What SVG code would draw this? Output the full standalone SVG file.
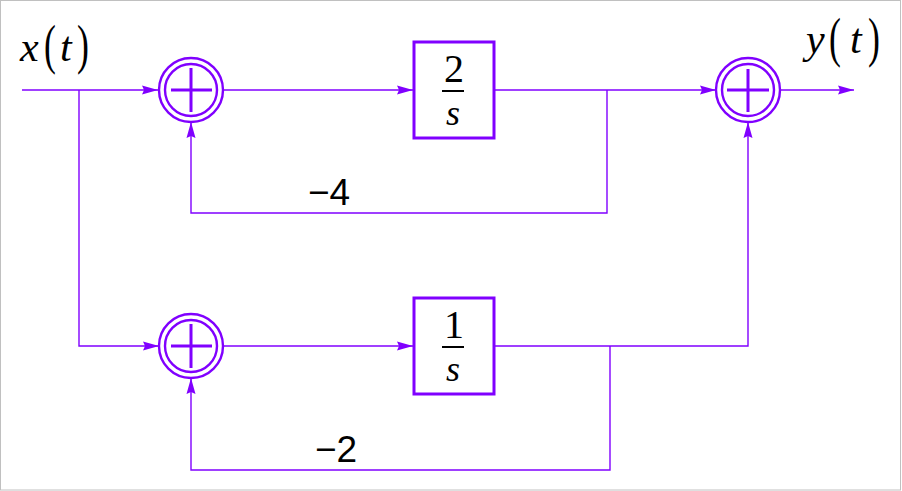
<svg xmlns="http://www.w3.org/2000/svg" width="902" height="491" viewBox="0 0 902 491">
<style>
.w{fill:none;stroke:#8000ff;stroke-width:1.4}
.ring{fill:none;stroke:#8000ff;stroke-width:2.4}
.cross{stroke:#8000ff;stroke-width:3}
.box{fill:#fff;stroke:#8000ff;stroke-width:3}
.m{font-family:"Liberation Serif","Times New Roman",serif;fill:#000}
.i{font-style:italic}
.p{font-family:"Liberation Serif","Times New Roman",serif;fill:#000;font-size:55px}
.n{font-family:"Liberation Sans",Arial,sans-serif;font-size:37px;fill:#000}
</style>
<defs>
<marker id="ar" markerUnits="userSpaceOnUse" markerWidth="18" markerHeight="12" viewBox="0 0 18 12" refX="16" refY="6" orient="auto">
<path d="M0,1.5 L16,6 L0,10.5 L2,6 Z" fill="#8000ff"/>
</marker>
</defs>
<rect x="0.5" y="0.5" width="900" height="489.5" fill="#fff" stroke="#c0c0c0" stroke-width="1"/>
<g id="connectors">
<path class="w" d="M22,90 H158" marker-end="url(#ar)"/>
<path class="w" d="M79,90 V346 H159" marker-end="url(#ar)"/>
<path class="w" d="M223,90 H413" marker-end="url(#ar)"/>
<path class="w" d="M495,90 H716" marker-end="url(#ar)"/>
<path class="w" d="M780,90 H854" marker-end="url(#ar)"/>
<path class="w" d="M607,90 V213 H191 V122" marker-end="url(#ar)"/>
<path class="w" d="M223,346 H413" marker-end="url(#ar)"/>
<path class="w" d="M495,346 H748 V122" marker-end="url(#ar)"/>
<path class="w" d="M610,346 V470 H191 V378" marker-end="url(#ar)"/>
</g>
<g id="sum1">
<circle class="ring" cx="191" cy="90" r="32"/>
<circle class="ring" cx="191" cy="90" r="26"/>
<path class="cross" d="M171,90 H212 M191,68 V112"/>
</g>
<g id="sum2">
<circle class="ring" cx="191" cy="346" r="32"/>
<circle class="ring" cx="191" cy="346" r="26"/>
<path class="cross" d="M171,346 H212 M191,324 V368"/>
</g>
<g id="sum3">
<circle class="ring" cx="748" cy="90" r="32"/>
<circle class="ring" cx="748" cy="90" r="26"/>
<path class="cross" d="M727,90 H769 M748,69 V112"/>
</g>
<g id="int1">
<rect class="box" x="414" y="42" width="80" height="96"/>
<text class="m" x="454" y="82" font-size="40" text-anchor="middle">2</text>
<line x1="442" y1="91" x2="464" y2="91" stroke="#000" stroke-width="2"/>
<text class="m i" x="453" y="125" font-size="36" text-anchor="middle">s</text>
</g>
<g id="int2">
<rect class="box" x="414" y="298" width="80" height="96"/>
<text class="m" x="454" y="338" font-size="40" text-anchor="middle">1</text>
<line x1="442" y1="347" x2="464" y2="347" stroke="#000" stroke-width="2"/>
<text class="m i" x="453" y="381" font-size="36" text-anchor="middle">s</text>
</g>
<g id="input">
<text class="m i" x="20" y="61" font-size="42">x</text>
<text class="p" transform="translate(44,63) scale(0.65,1)">(</text>
<text class="m i" x="60" y="61" font-size="42">t</text>
<text class="p" transform="translate(77,63) scale(0.65,1)">)</text>
</g>
<g id="output">
<text class="m i" x="806" y="53" font-size="42">y</text>
<text class="p" transform="translate(829,56) scale(0.65,1)">(</text>
<text class="m i" x="850" y="53" font-size="42">t</text>
<text class="p" transform="translate(868,56) scale(0.65,1)">)</text>
</g>
<g id="gain1"><text class="n" x="308" y="205">−4</text></g>
<g id="gain2"><text class="n" x="315" y="462">−2</text></g>
</svg>
